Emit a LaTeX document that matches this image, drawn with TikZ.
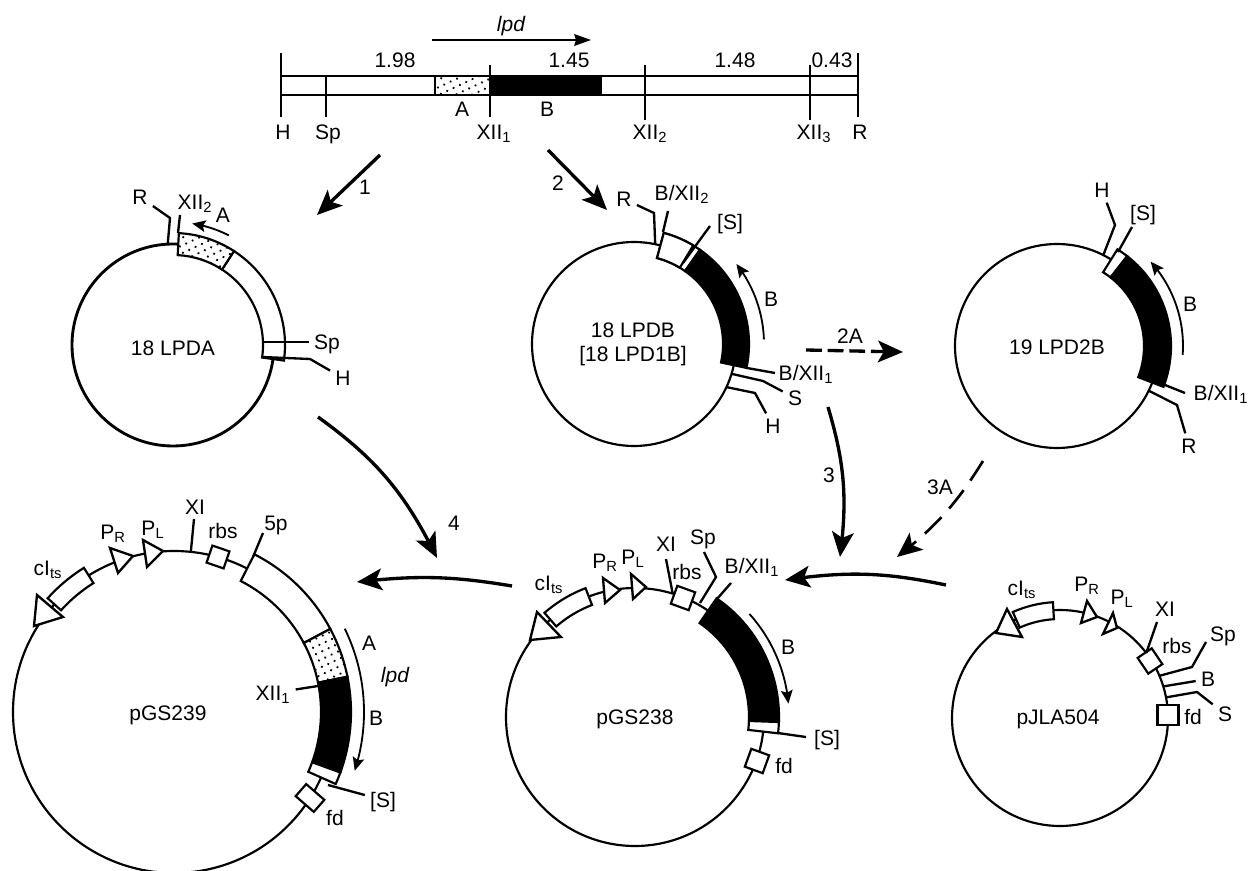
\documentclass[tikz,border=0pt]{standalone}
\usepackage{fontspec}
\setmainfont{Liberation Sans}
\usetikzlibrary{arrows.meta,patterns.meta,bending}
\newcommand{\plseg}[6]{\begin{scope}[shift={(#1.center)},y=0.6pt]
  \path[seg,#6] (#4:#2) arc[start angle=#4,end angle=#5,radius=#2*0.6pt] -- (#5:#3) arc[start angle=#5,end angle=#4,radius=#3*0.6pt] -- cycle;
\end{scope}}
\newcommand{\plarc}[4]{\begin{scope}[shift={(#1.center)},y=0.6pt]
  \draw[thin arr] (#3:#2) arc[start angle=#3,end angle=#4,radius=#2*0.6pt];
\end{scope}}

\begin{document}
\begin{tikzpicture}[x=0.6pt,y=-0.6pt,font=\fontsize{12.6}{14.5}\selectfont,line join=miter,
  lab/.style={inner sep=3pt,text height=8.8pt,text depth=0pt},
  plas/.style={circle,draw,line width=1.3pt,inner sep=0pt,outer sep=0pt},
  seg/.style={draw,line width=1.3pt},
  wht/.style={fill=white},
  blk/.style={fill=black},
  stip/.style={fill=white,postaction={pattern={Dots[radius=0.75pt,distance=4.2pt,angle=25]}}},
  tri/.style={draw,fill=white,line width=1.4pt},
  sbox/.style={draw,fill=white,line width=1.3pt,inner sep=0pt,outer sep=0pt},
  site/.style={line width=1.4pt},
  arr/.style={line width=2pt,-{Stealth[length=15pt,width=13pt,inset=3.5pt,flex]}},
  thin arr/.style={line width=1.1pt,-{Stealth[length=8pt,width=7pt,inset=1.5pt,flex]}}]
\useasboundingbox (0,0) rectangle (1249,871);
% map
\draw[line width=1.4pt] (281,76) rectangle (858,95);
\path[seg,stip] (435,76) rectangle (490,95);
\fill[black] (490,76) rectangle (602,95);
\node[lab](lH) at (283,132){H};
\node[lab](lSp) at (328,132){Sp};
\node[lab](lX1) at (494,132){XII\textsubscript{1}};
\node[lab](lX2) at (650,132){XII\textsubscript{2}};
\node[lab](lX3) at (814,132){XII\textsubscript{3}};
\node[lab](lRr) at (860,132){R};
\draw[site] (281,53) -- (281,117); \draw[site] (326,76) -- (326,117);
\draw[site] (490,65) -- (490,117); \draw[site] (645,65) -- (645,120);
\draw[site] (810,65) -- (810,120); \draw[site] (858,53) -- (858,117);
\node[lab] at (395,60){1.98}; \node[lab] at (569,60){1.45};
\node[lab] at (735,60){1.48}; \node[lab] at (832,60){0.43};
\node[lab] at (462,109){A}; \node[lab] at (547,109){B};
\node[lab,font=\fontsize{12.6}{14.5}\selectfont\itshape](llpd) at (511,24){lpd};
\coordinate (m0) at (432,40); \coordinate (m1) at (591,40);
\draw[line width=1.2pt,-{Stealth[length=10pt,width=7pt,inset=1pt]}] (m0) -- (m1);
% 18 LPDA
\node[plas,minimum size=121.2pt,line width=1.7pt](pa) at (173,345){};
\plseg{pa}{90}{112}{57}{-8}{wht}
\plseg{pa}{90}{112}{87}{57}{stip}
\node[lab] at (173,348){18 LPDA};
\node[lab](paR) at (140,197){R}; \node[lab](paX) at (195,202){XII\textsubscript{2}};
\node[lab](paA) at (223,215){A}; \node[lab](paS) at (327,342){Sp};
\node[lab](paH) at (343,378){H};
\draw[site] (pa.93) -- (170,218) -- (paR);
\draw[site] (178,233) -- (180,215);
\draw[site] (263,342) -- (paS);
\draw[site] (262,357) -- (310,359) -- (paH);
\plarc{pa}{123}{63}{81}
% 18 LPDB
\node[plas,minimum size=122.4pt](pb) at (634,344){};
\plseg{pb}{89}{115}{75}{55}{wht}
\plseg{pb}{89}{115}{55}{-12}{blk}
\plseg{pb}{89}{115}{75}{59}{wht}
\node[align=center,inner sep=0pt] at (633,344){18 LPDB\\[0pt][18 LPD1B]};
\node[lab](pbR) at (624,199){R}; \node[lab](pbX) at (682,193){B/XII\textsubscript{2}};
\node[lab](pbS) at (730,222){[S]}; \node[lab](pbB) at (771,299){B};
\node[lab](pbY) at (806,373){B/XII\textsubscript{1}}; \node[lab](pbT) at (795,398){S};
\node[lab](pbH) at (773,426){H};
\draw[site] (pb.78) -- (654,213) -- (pbR);
\draw[site] (663,232) -- (668,211);
\draw[site] (683,263) -- (710,226);
\draw[site] (747,368) -- (775,373);
\draw[site] (pb.-17) -- (763,381) -- (pbT);
\draw[site] (pb.-25) -- (755,393) -- (pbH);
\plarc{pb}{130}{2}{38}
% 19 LPD2B
\node[plas,minimum size=122.4pt](pc) at (1057,346){};
\plseg{pc}{87}{114}{58}{52}{wht}
\plseg{pc}{87}{114}{52}{-21}{blk}
\node[lab] at (1057,347){19 LPD2B};
\node[lab](pcH) at (1102,190){H}; \node[lab](pcS) at (1143,213){[S]};
\node[lab](pcB) at (1190,304){B}; \node[lab](pcY) at (1221,393){B/XII\textsubscript{1}};
\node[lab](pcR) at (1189,446){R};
\draw[site] (pc.63) -- (1115,225) -- (pcH);
\draw[site] (1118,252) -- (1132,227);
\draw[site] (1165,385) -- (1185,393);
\draw[site] (pc.-26) -- (1177,405) -- (pcR);
\plarc{pc}{126}{-4}{42}
% pGS239
\node[plas,minimum size=193.2pt](pd) at (174,712){};
\plseg{pd}{147}{177}{63}{28}{wht}
\plseg{pd}{147}{177}{28}{11.5}{stip}
\plseg{pd}{147}{177}{11.5}{-20}{blk}
\plseg{pd}{147}{177}{-20}{-24}{wht}
\plseg{pd}{152}{170}{122}{138}{wht}
\draw[tri] (37,595) -- (63,617) -- (34,626) -- cycle;
\draw[tri] (110,548) -- (133,556) -- (118,573) -- cycle;
\draw[tri] (143,540) -- (163,551) -- (147,567) -- cycle;
\node[sbox,minimum size=10.8pt,rotate=-19](drbs) at (218,557){};
\node[sbox,minimum width=14.4pt,minimum height=9.6pt,rotate=-41](dfd) at (310,798){};
\node[lab] at (168,713){pGS239};
\node[lab] at (48,568){cI\textsubscript{ts}}; \node[lab] at (113,532){P\textsubscript{R}};
\node[lab] at (153,528){P\textsubscript{L}}; \node[lab](dXI) at (195,507){XI};
\node[lab] at (223,531){rbs}; \node[lab](d5p) at (276,523){5p};
\node[lab] at (369,643){A}; \node[lab,font=\fontsize{12.6}{14.5}\selectfont\itshape] at (395,675){lpd};
\node[lab] at (376,718){B}; \node[lab](dX) at (273,693){XII\textsubscript{1}};
\node[lab](dS) at (383,800){[S]}; \node[lab] at (335,818){fd};
\draw[site] (pd.84) -- (194,519);
\draw[site] (253,557) -- (263,533);
\draw[site] (dX) -- (318,686);
\draw[site] (328,785) -- (dS);
\plarc{pd}{190}{26}{-18}
% pGS238
\node[plas,minimum size=154.8pt](pe) at (635,717){};
\plseg{pe}{114}{144}{55.5}{-2}{blk}
\plseg{pe}{114}{144}{-2}{-6.5}{wht}
\plseg{pe}{120}{138}{111}{131}{wht}
\draw[tri] (537,612) -- (561,637) -- (530,640) -- cycle;
\draw[tri] (603,578) -- (620,590) -- (605,603) -- cycle;
\draw[tri] (631,574) -- (646,587) -- (633,599) -- cycle;
\node[sbox,minimum size=11.4pt,rotate=-20](erbs) at (683,598){};
\node[sbox,minimum size=11.4pt,rotate=-20](efd) at (757,761){};
\node[lab] at (635,717){pGS238};
\node[lab] at (549,583){cI\textsubscript{ts}}; \node[lab] at (605,561){P\textsubscript{R}};
\node[lab] at (633,557){P\textsubscript{L}}; \node[lab] at (666,544){XI};
\node[lab] at (687,572){rbs}; \node[lab](eSp) at (703,537){Sp};
\node[lab](eY) at (752,566){B/XII\textsubscript{1}}; \node[lab] at (788,647){B};
\node[lab](eS) at (827,738){[S]}; \node[lab] at (784,766){fd};
\draw[site] (pe.73) -- (666,559);
\draw[site] (700,603) -- (716,577) -- (704,552);
\draw[site] (717,599) -- (731,583);
\draw[site] (778,733) -- (806,737);
\plarc{pe}{154}{42}{5}
% pJLA504
\node[plas,minimum size=129.6pt](pf) at (1060,718){};
\plseg{pf}{99}{116}{93.5}{114}{wht}
\draw[tri] (1007,609) -- (1022,637) -- (996,633) -- cycle;
\draw[tri] (1087,601) -- (1097,617) -- (1081,623) -- cycle;
\draw[tri] (1113,613) -- (1117,628) -- (1103,634) -- cycle;
\node[sbox,minimum width=10.2pt,minimum height=11.4pt,rotate=34](frbs) at (1150,661){};
\node[sbox,minimum width=12.6pt,minimum height=12pt](ffd) at (1168,715){};
\node[lab] at (1058,717){pJLA504};
\node[lab] at (1022,588){cI\textsubscript{ts}}; \node[lab] at (1087,584){P\textsubscript{R}};
\node[lab] at (1122,597){P\textsubscript{L}}; \node[lab] at (1165,609){XI};
\node[lab] at (1177,646){rbs}; \node[lab](fSp) at (1223,634){Sp};
\node[lab](fB) at (1208,679){B}; \node[lab](fS) at (1225,714){S};
\node[lab] at (1193,717){fd};
\draw[site] (pf.37) -- (1157,622);
\draw[site] (pf.23) -- (1192,667) -- (1206,642);
\draw[site] (pf.17) -- (fB);
\draw[site] (pf.11) -- (1197,692) -- (fS);
% steps
\coordinate (a1s) at (380,155); \coordinate (a1e) at (317,215);
\coordinate (a2s) at (548,150); \coordinate (a2e) at (607,210);
\coordinate (a2as) at (806,350); \coordinate (a2ae) at (903,352);
\coordinate (a3s) at (828,407); \coordinate (a3e) at (840,557);
\coordinate (a3as) at (983,461); \coordinate (a3ae) at (897,557);
\coordinate (a4s) at (318,417); \coordinate (a4e) at (437,558);
\coordinate (a5s) at (946,585); \coordinate (a5e) at (785,580);
\coordinate (a6s) at (512,586); \coordinate (a6e) at (357,582);
\draw[arr] (a1s) -- (a1e); \draw[arr] (a2s) -- (a2e);
\draw[arr,dash pattern=on 9.5pt off 3.5pt] (a2as) -- (a2ae);
\draw[arr] (a3s) to[bend left=12] (a3e);
\draw[arr,line width=1.6pt,dash pattern=on 14pt off 7pt] (a3as) to[bend left=10] (a3ae);
\draw[arr] (a4s) to[bend left=14] (a4e);
\draw[arr] (a5s) to[bend right=10] (a5e);
\draw[arr] (a6s) to[bend right=8] (a6e);
\node[lab] at (365,187){1}; \node[lab] at (558,183){2}; \node[lab] at (850,336){2A};
\node[lab] at (829,475){3}; \node[lab] at (940,487){3A}; \node[lab] at (454,523){4};
\end{tikzpicture}
\end{document}
